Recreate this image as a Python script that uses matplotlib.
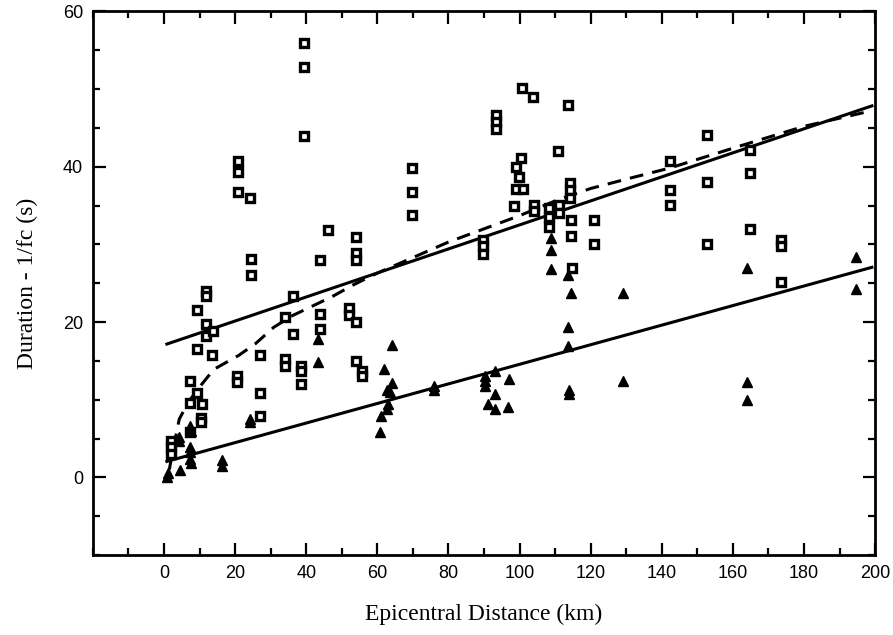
import matplotlib
matplotlib.use("Agg")
import matplotlib.pyplot as plt
from matplotlib.ticker import MultipleLocator

# squares: duration - 1/fc, upper group
sq_dist = [2.1, 2.1, 2.1, 7.4, 7.2, 7.2, 9.4, 10.7, 10.3, 10.3, 9.3, 9.3,
           11.7, 11.7, 11.7, 11.7, 13.7, 13.4, 20.6, 20.6, 20.7, 20.7, 20.7, 24.1,
           24.4, 24.4, 27.1, 27.1, 27.1, 34.0, 34.0, 34.0, 36.3, 36.2,
           38.6, 38.6, 38.6, 39.4, 39.4, 39.4, 44.0, 44.0, 44.0, 46.1,
           52.1, 52.1, 54.1, 54.1, 54.1, 54.1, 54.1, 55.7, 55.7,
           69.8, 69.8, 69.8, 89.8, 89.8, 89.8, 93.5, 93.5, 93.5,
           98.5, 98.9, 99.8, 100.3, 99.0, 101.0, 100.8, 103.7, 104.0, 104.0,
           108.3, 108.3, 108.3, 111.1, 111.1, 110.7, 113.7,
           114.2, 114.2, 114.2, 114.4, 114.4, 114.8, 120.8, 120.8,
           142.3, 142.3, 142.3, 152.6, 152.6, 152.6, 164.8, 164.8, 164.8,
           173.6, 173.6, 173.6]
sq_dur = [4.7, 3.9, 3.0, 5.8, 9.6, 12.4, 10.9, 9.4, 7.7, 7.1, 21.6, 16.5,
          24.0, 23.3, 19.7, 18.2, 18.8, 15.8, 13.0, 12.3, 40.8, 39.3, 36.8, 36.0,
          28.1, 26.0, 15.8, 10.9, 7.9, 20.7, 15.2, 14.3, 23.3, 18.4,
          14.4, 13.7, 12.0, 55.9, 52.8, 43.9, 28.0, 21.0, 19.1, 31.8,
          21.8, 20.9, 20.0, 15.0, 31.0, 28.9, 28.0, 13.7, 13.0,
          39.8, 36.8, 33.8, 30.6, 29.8, 28.7, 46.7, 45.7, 44.8,
          34.9, 40.0, 38.7, 41.1, 37.1, 37.1, 50.1, 49.0, 35.1, 34.3,
          34.7, 33.5, 32.3, 35.1, 34.1, 42.0, 47.9,
          37.9, 37.0, 36.0, 33.1, 31.1, 27.0, 33.1, 30.0,
          40.8, 37.0, 35.1, 44.1, 38.0, 30.0, 42.1, 39.2, 32.0,
          30.6, 29.8, 25.1]

# triangles: lower group
tri_dist = [0.9, 1.2, 4.4, 4.1, 4.2, 7.4, 7.5, 7.4, 7.4, 7.3, 7.5, 16.4, 16.4,
            24.1, 24.1, 43.3, 43.3,
            60.7, 60.9, 62.8, 63.0, 62.8, 63.5, 64.2, 62.0, 64.2,
            75.9, 75.9, 90.4, 90.4, 90.4, 91.0, 93.2, 93.2, 93.2, 96.8, 97.0,
            108.9, 108.9, 108.9, 113.7, 114.5, 113.7, 113.7, 114.0, 114.0,
            129.0, 129.0, 164.0, 164.0, 164.0, 194.5, 194.5]
tri_dur = [0.0, 0.5, 0.9, 4.7, 5.2, 6.6, 6.0, 3.9, 3.2, 2.4, 1.8, 1.5, 2.2,
           7.1, 7.5, 17.8, 14.9,
           5.8, 7.9, 8.8, 9.5, 11.3, 11.0, 12.2, 13.9, 17.0,
           11.3, 11.8, 13.1, 12.4, 11.7, 9.4, 13.7, 10.7, 8.8, 9.0, 12.6,
           30.8, 29.3, 26.8, 26.0, 23.8, 19.3, 16.9, 11.2, 10.7,
           23.8, 12.4, 26.9, 12.3, 10.0, 28.4, 24.3]

# straight fits (end points)
fit_dist = [0.4, 199.5]
fit_upper = [17.1, 47.9]
fit_lower = [2.0, 27.1]

# dashed curve
curve_dist = [1.5, 2.5, 4.3, 7.0, 10.3, 14.0, 21.0, 25.7, 30.8, 36.0, 41.5,
              47.4, 53.3, 60.0, 70.0, 80.0, 90.0, 100.0, 110.0, 120.0, 130.0,
              142.0, 165.0, 180.0, 198.0]
curve_dur = [1.0, 3.5, 7.5, 9.8, 11.8, 13.9, 15.7, 17.2, 19.3, 20.8, 22.0,
             23.3, 24.8, 26.3, 28.3, 30.3, 32.0, 33.7, 35.6, 37.2, 38.4,
             39.8, 43.1, 45.2, 47.1]


def plot_duration():
    fig = plt.figure(figsize=(8.93, 6.35), dpi=100)
    ax = fig.add_axes([0.104, 0.126, 0.876, 0.856])

    ax.plot(fit_dist, fit_upper, color='black', lw=2.2, solid_capstyle='butt')
    ax.plot(fit_dist, fit_lower, color='black', lw=2.2, solid_capstyle='butt')
    ax.plot(curve_dist, curve_dur, color='black', lw=2.2, ls=(0, (4.5, 3)))

    ax.plot(sq_dist, sq_dur, ls='none', marker='s', ms=5.6, mfc='white',
            mec='black', mew=2.4)
    ax.plot(tri_dist, tri_dur, ls='none', marker='^', ms=7.8, color='black')

    ax.set_xlim(-20, 200)
    ax.set_ylim(-10, 60)
    ax.xaxis.set_major_locator(MultipleLocator(20))
    ax.xaxis.set_minor_locator(MultipleLocator(10))
    ax.yaxis.set_major_locator(MultipleLocator(20))
    ax.yaxis.set_minor_locator(MultipleLocator(5))
    ax.set_xticks(range(0, 201, 20))

    ax.tick_params(which='both', direction='in', top=True, right=True,
                   width=1.6, labelsize=13)
    ax.tick_params(which='major', length=9, pad=7)
    ax.tick_params(which='minor', length=5)
    for lab in ax.get_xticklabels() + ax.get_yticklabels():
        lab.set_family('Liberation Sans')
    for sp in ax.spines.values():
        sp.set_linewidth(2.0)

    ax.set_xlabel('Epicentral Distance (km)', family='Liberation Serif',
                  fontsize=17, labelpad=16)
    ax.set_ylabel('Duration - 1/fc (s)', family='Liberation Serif',
                  fontsize=17, labelpad=18)

    fig.savefig('out.png', dpi=100)


if __name__ == "__main__":
    plot_duration()
